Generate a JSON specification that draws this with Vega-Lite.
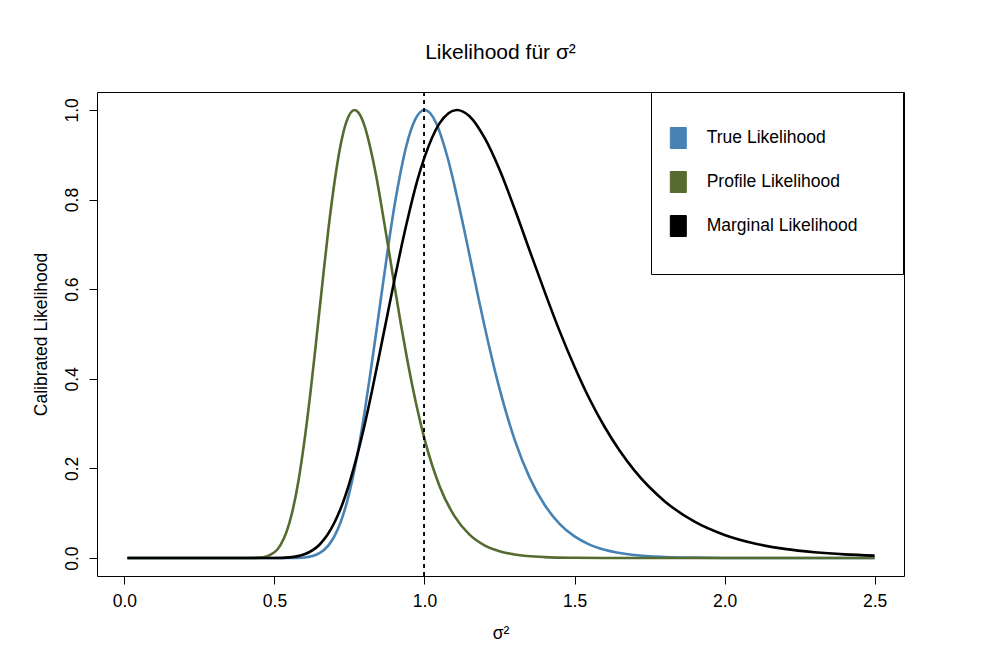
{
  "$schema": "https://vega.github.io/schema/vega-lite/v6.json",
  "width": 807,
  "height": 484,
  "autosize": {"type": "none"},
  "padding": {"left": 97, "top": 92, "right": 78, "bottom": 88},
  "background": "white",
  "title": {"text": "Likelihood für σ²", "fontSize": 21, "fontWeight": "normal", "font": "Liberation Sans", "color": "black", "anchor": "middle", "frame": "group", "baseline": "alphabetic", "offset": 12},
  "datasets": {
    "curves": [
      {"sigma2": 0.01, "likelihood": 0, "series": "True Likelihood"},
      {"sigma2": 0.3, "likelihood": 0, "series": "True Likelihood"},
      {"sigma2": 0.5, "likelihood": 0, "series": "True Likelihood"},
      {"sigma2": 0.55, "likelihood": 0.0001, "series": "True Likelihood"},
      {"sigma2": 0.6, "likelihood": 0.0014, "series": "True Likelihood"},
      {"sigma2": 0.65, "likelihood": 0.0109, "series": "True Likelihood"},
      {"sigma2": 0.68, "likelihood": 0.0283, "series": "True Likelihood"},
      {"sigma2": 0.7, "likelihood": 0.0488, "series": "True Likelihood"},
      {"sigma2": 0.72, "likelihood": 0.0792, "series": "True Likelihood"},
      {"sigma2": 0.74, "likelihood": 0.121, "series": "True Likelihood"},
      {"sigma2": 0.76, "likelihood": 0.176, "series": "True Likelihood"},
      {"sigma2": 0.78, "likelihood": 0.244, "series": "True Likelihood"},
      {"sigma2": 0.8, "likelihood": 0.324, "series": "True Likelihood"},
      {"sigma2": 0.82, "likelihood": 0.414, "series": "True Likelihood"},
      {"sigma2": 0.84, "likelihood": 0.508, "series": "True Likelihood"},
      {"sigma2": 0.86, "likelihood": 0.604, "series": "True Likelihood"},
      {"sigma2": 0.88, "likelihood": 0.699, "series": "True Likelihood"},
      {"sigma2": 0.9, "likelihood": 0.786, "series": "True Likelihood"},
      {"sigma2": 0.92, "likelihood": 0.86, "series": "True Likelihood"},
      {"sigma2": 0.94, "likelihood": 0.921, "series": "True Likelihood"},
      {"sigma2": 0.97, "likelihood": 0.98, "series": "True Likelihood"},
      {"sigma2": 1.0, "likelihood": 1.0, "series": "True Likelihood"},
      {"sigma2": 1.02, "likelihood": 0.992, "series": "True Likelihood"},
      {"sigma2": 1.04, "likelihood": 0.969, "series": "True Likelihood"},
      {"sigma2": 1.06, "likelihood": 0.932, "series": "True Likelihood"},
      {"sigma2": 1.08, "likelihood": 0.886, "series": "True Likelihood"},
      {"sigma2": 1.1, "likelihood": 0.831, "series": "True Likelihood"},
      {"sigma2": 1.12, "likelihood": 0.771, "series": "True Likelihood"},
      {"sigma2": 1.14, "likelihood": 0.708, "series": "True Likelihood"},
      {"sigma2": 1.16, "likelihood": 0.644, "series": "True Likelihood"},
      {"sigma2": 1.18, "likelihood": 0.58, "series": "True Likelihood"},
      {"sigma2": 1.2, "likelihood": 0.518, "series": "True Likelihood"},
      {"sigma2": 1.25, "likelihood": 0.378, "series": "True Likelihood"},
      {"sigma2": 1.3, "likelihood": 0.265, "series": "True Likelihood"},
      {"sigma2": 1.35, "likelihood": 0.18, "series": "True Likelihood"},
      {"sigma2": 1.4, "likelihood": 0.119, "series": "True Likelihood"},
      {"sigma2": 1.45, "likelihood": 0.0765, "series": "True Likelihood"},
      {"sigma2": 1.5, "likelihood": 0.0483, "series": "True Likelihood"},
      {"sigma2": 1.55, "likelihood": 0.0301, "series": "True Likelihood"},
      {"sigma2": 1.6, "likelihood": 0.0185, "series": "True Likelihood"},
      {"sigma2": 1.7, "likelihood": 0.0068, "series": "True Likelihood"},
      {"sigma2": 1.8, "likelihood": 0.0024, "series": "True Likelihood"},
      {"sigma2": 1.9, "likelihood": 0.0009, "series": "True Likelihood"},
      {"sigma2": 2.0, "likelihood": 0.0003, "series": "True Likelihood"},
      {"sigma2": 2.2, "likelihood": 0, "series": "True Likelihood"},
      {"sigma2": 2.5, "likelihood": 0, "series": "True Likelihood"},

      {"sigma2": 0.01, "likelihood": 0, "series": "Profile Likelihood"},
      {"sigma2": 0.3, "likelihood": 0, "series": "Profile Likelihood"},
      {"sigma2": 0.4, "likelihood": 0.00002, "series": "Profile Likelihood"},
      {"sigma2": 0.45, "likelihood": 0.0009, "series": "Profile Likelihood"},
      {"sigma2": 0.5, "likelihood": 0.0129, "series": "Profile Likelihood"},
      {"sigma2": 0.52, "likelihood": 0.029, "series": "Profile Likelihood"},
      {"sigma2": 0.54, "likelihood": 0.0578, "series": "Profile Likelihood"},
      {"sigma2": 0.56, "likelihood": 0.1045, "series": "Profile Likelihood"},
      {"sigma2": 0.58, "likelihood": 0.172, "series": "Profile Likelihood"},
      {"sigma2": 0.6, "likelihood": 0.262, "series": "Profile Likelihood"},
      {"sigma2": 0.62, "likelihood": 0.369, "series": "Profile Likelihood"},
      {"sigma2": 0.64, "likelihood": 0.49, "series": "Profile Likelihood"},
      {"sigma2": 0.66, "likelihood": 0.614, "series": "Profile Likelihood"},
      {"sigma2": 0.68, "likelihood": 0.735, "series": "Profile Likelihood"},
      {"sigma2": 0.7, "likelihood": 0.838, "series": "Profile Likelihood"},
      {"sigma2": 0.72, "likelihood": 0.92, "series": "Profile Likelihood"},
      {"sigma2": 0.74, "likelihood": 0.974, "series": "Profile Likelihood"},
      {"sigma2": 0.767, "likelihood": 1.0, "series": "Profile Likelihood"},
      {"sigma2": 0.78, "likelihood": 0.994, "series": "Profile Likelihood"},
      {"sigma2": 0.8, "likelihood": 0.965, "series": "Profile Likelihood"},
      {"sigma2": 0.82, "likelihood": 0.914, "series": "Profile Likelihood"},
      {"sigma2": 0.84, "likelihood": 0.849, "series": "Profile Likelihood"},
      {"sigma2": 0.86, "likelihood": 0.772, "series": "Profile Likelihood"},
      {"sigma2": 0.88, "likelihood": 0.691, "series": "Profile Likelihood"},
      {"sigma2": 0.9, "likelihood": 0.608, "series": "Profile Likelihood"},
      {"sigma2": 0.92, "likelihood": 0.527, "series": "Profile Likelihood"},
      {"sigma2": 0.94, "likelihood": 0.452, "series": "Profile Likelihood"},
      {"sigma2": 0.96, "likelihood": 0.383, "series": "Profile Likelihood"},
      {"sigma2": 0.98, "likelihood": 0.321, "series": "Profile Likelihood"},
      {"sigma2": 1.0, "likelihood": 0.266, "series": "Profile Likelihood"},
      {"sigma2": 1.05, "likelihood": 0.161, "series": "Profile Likelihood"},
      {"sigma2": 1.1, "likelihood": 0.0935, "series": "Profile Likelihood"},
      {"sigma2": 1.15, "likelihood": 0.0522, "series": "Profile Likelihood"},
      {"sigma2": 1.2, "likelihood": 0.0285, "series": "Profile Likelihood"},
      {"sigma2": 1.25, "likelihood": 0.0153, "series": "Profile Likelihood"},
      {"sigma2": 1.3, "likelihood": 0.0081, "series": "Profile Likelihood"},
      {"sigma2": 1.4, "likelihood": 0.0022, "series": "Profile Likelihood"},
      {"sigma2": 1.5, "likelihood": 0.0006, "series": "Profile Likelihood"},
      {"sigma2": 1.6, "likelihood": 0.00015, "series": "Profile Likelihood"},
      {"sigma2": 1.8, "likelihood": 0, "series": "Profile Likelihood"},
      {"sigma2": 2.5, "likelihood": 0, "series": "Profile Likelihood"},

      {"sigma2": 0.01, "likelihood": 0, "series": "Marginal Likelihood"},
      {"sigma2": 0.3, "likelihood": 0, "series": "Marginal Likelihood"},
      {"sigma2": 0.45, "likelihood": 0.00001, "series": "Marginal Likelihood"},
      {"sigma2": 0.5, "likelihood": 0.0002, "series": "Marginal Likelihood"},
      {"sigma2": 0.55, "likelihood": 0.0016, "series": "Marginal Likelihood"},
      {"sigma2": 0.6, "likelihood": 0.0084, "series": "Marginal Likelihood"},
      {"sigma2": 0.65, "likelihood": 0.0298, "series": "Marginal Likelihood"},
      {"sigma2": 0.675, "likelihood": 0.0502, "series": "Marginal Likelihood"},
      {"sigma2": 0.7, "likelihood": 0.0794, "series": "Marginal Likelihood"},
      {"sigma2": 0.725, "likelihood": 0.118, "series": "Marginal Likelihood"},
      {"sigma2": 0.75, "likelihood": 0.168, "series": "Marginal Likelihood"},
      {"sigma2": 0.775, "likelihood": 0.2276, "series": "Marginal Likelihood"},
      {"sigma2": 0.8, "likelihood": 0.296, "series": "Marginal Likelihood"},
      {"sigma2": 0.825, "likelihood": 0.373, "series": "Marginal Likelihood"},
      {"sigma2": 0.85, "likelihood": 0.455, "series": "Marginal Likelihood"},
      {"sigma2": 0.875, "likelihood": 0.538, "series": "Marginal Likelihood"},
      {"sigma2": 0.9, "likelihood": 0.621, "series": "Marginal Likelihood"},
      {"sigma2": 0.925, "likelihood": 0.701, "series": "Marginal Likelihood"},
      {"sigma2": 0.95, "likelihood": 0.774, "series": "Marginal Likelihood"},
      {"sigma2": 0.975, "likelihood": 0.84, "series": "Marginal Likelihood"},
      {"sigma2": 1.0, "likelihood": 0.894, "series": "Marginal Likelihood"},
      {"sigma2": 1.05, "likelihood": 0.97, "series": "Marginal Likelihood"},
      {"sigma2": 1.108, "likelihood": 1.0, "series": "Marginal Likelihood"},
      {"sigma2": 1.15, "likelihood": 0.986, "series": "Marginal Likelihood"},
      {"sigma2": 1.2, "likelihood": 0.938, "series": "Marginal Likelihood"},
      {"sigma2": 1.25, "likelihood": 0.867, "series": "Marginal Likelihood"},
      {"sigma2": 1.3, "likelihood": 0.78, "series": "Marginal Likelihood"},
      {"sigma2": 1.35, "likelihood": 0.687, "series": "Marginal Likelihood"},
      {"sigma2": 1.4, "likelihood": 0.595, "series": "Marginal Likelihood"},
      {"sigma2": 1.45, "likelihood": 0.507, "series": "Marginal Likelihood"},
      {"sigma2": 1.5, "likelihood": 0.427, "series": "Marginal Likelihood"},
      {"sigma2": 1.55, "likelihood": 0.355, "series": "Marginal Likelihood"},
      {"sigma2": 1.6, "likelihood": 0.293, "series": "Marginal Likelihood"},
      {"sigma2": 1.65, "likelihood": 0.24, "series": "Marginal Likelihood"},
      {"sigma2": 1.7, "likelihood": 0.195, "series": "Marginal Likelihood"},
      {"sigma2": 1.8, "likelihood": 0.127, "series": "Marginal Likelihood"},
      {"sigma2": 1.9, "likelihood": 0.0812, "series": "Marginal Likelihood"},
      {"sigma2": 2.0, "likelihood": 0.0516, "series": "Marginal Likelihood"},
      {"sigma2": 2.1, "likelihood": 0.0326, "series": "Marginal Likelihood"},
      {"sigma2": 2.2, "likelihood": 0.0205, "series": "Marginal Likelihood"},
      {"sigma2": 2.3, "likelihood": 0.0129, "series": "Marginal Likelihood"},
      {"sigma2": 2.4, "likelihood": 0.0082, "series": "Marginal Likelihood"},
      {"sigma2": 2.5, "likelihood": 0.0055, "series": "Marginal Likelihood"}
    ]
  },
  "data": {"name": "curves"},
  "layer": [
    {
      "transform": [{"filter": "datum.series === 'True Likelihood'"}],
      "mark": {"type": "line", "interpolate": "monotone", "strokeWidth": 2.6},
      "encoding": {
        "x": {"field": "sigma2", "type": "quantitative", "title": "σ²",
              "scale": {"domain": [-0.0913, 2.5979], "nice": false, "zero": false},
              "axis": {"values": [0, 0.5, 1, 1.5, 2, 2.5], "format": ".1f", "labelPadding": 8, "labelBaseline": "top", "labelFlush": false, "labelOverlap": false, "titleX": 403.5, "titleY": 62, "titleAlign": "center", "titleBaseline": "alphabetic"}},
        "y": {"field": "likelihood", "type": "quantitative", "title": "Calibrated Likelihood",
              "scale": {"domain": [-0.04, 1.04], "nice": false, "zero": false},
              "axis": {"values": [0, 0.2, 0.4, 0.6, 0.8, 1], "format": ".1f", "labelAngle": -90, "labelAlign": "center", "labelBaseline": "alphabetic", "labelPadding": 12, "labelFlush": false, "labelOverlap": false, "titleAngle": -90, "titleX": -51, "titleY": 242, "titleAlign": "center", "titleBaseline": "alphabetic"}},
        "color": {"field": "series", "type": "nominal",
                  "scale": {"domain": ["True Likelihood", "Profile Likelihood", "Marginal Likelihood"], "range": ["#4682B4", "#556B2F", "#000000"]},
                  "legend": {
                    "title": ".", "titleOrient": "right", "titleFontSize": 10, "titlePadding": 8, "titleOpacity": 0,
                    "orient": "none", "legendX": 554, "legendY": 0,
                    "padding": 35, "strokeColor": "black", "fillColor": "white",
                    "symbolType": "M-0.762,-1H0.762V1H-0.762Z", "symbolSize": 441, "symbolStrokeWidth": 1,
                    "symbolOffset": -18.7, "labelOffset": 17.4, "rowPadding": 18,
                    "labelFont": "Liberation Sans", "labelFontSize": 17.5, "labelColor": "black", "labelLimit": 400,
                    "encode": {"symbols": {"update": {"fill": {"signal": "scale('color', datum.value)"}, "stroke": {"value": "black"}, "strokeWidth": {"value": 1}, "opacity": {"value": 1}}}}
                  }}
      }
    },
    {
      "transform": [{"filter": "datum.series === 'Profile Likelihood'"}],
      "mark": {"type": "line", "interpolate": "monotone", "strokeWidth": 2.6},
      "encoding": {
        "x": {"field": "sigma2", "type": "quantitative", "title": "σ²"},
        "y": {"field": "likelihood", "type": "quantitative", "title": "Calibrated Likelihood"},
        "color": {"field": "series", "type": "nominal"}
      }
    },
    {
      "transform": [{"filter": "datum.series === 'Marginal Likelihood'"}],
      "mark": {"type": "line", "interpolate": "monotone", "strokeWidth": 2.6},
      "encoding": {
        "x": {"field": "sigma2", "type": "quantitative", "title": "σ²"},
        "y": {"field": "likelihood", "type": "quantitative", "title": "Calibrated Likelihood"},
        "color": {"field": "series", "type": "nominal"}
      }
    },
    {
      "mark": {"type": "rule", "strokeDash": [4, 4], "color": "black", "strokeWidth": 1},
      "encoding": {"x": {"datum": 1}}
    }
  ],
  "config": {
    "font": "Liberation Sans",
    "view": {"stroke": "black", "strokeWidth": 1},
    "axis": {"grid": false, "domain": false, "tickColor": "black", "tickSize": 8, "tickWidth": 1,
             "labelColor": "black", "labelFont": "Liberation Sans", "labelFontSize": 17.5,
             "titleFont": "Liberation Sans", "titleFontSize": 17.5, "titleFontWeight": "normal", "titleColor": "black"}
  }
}
